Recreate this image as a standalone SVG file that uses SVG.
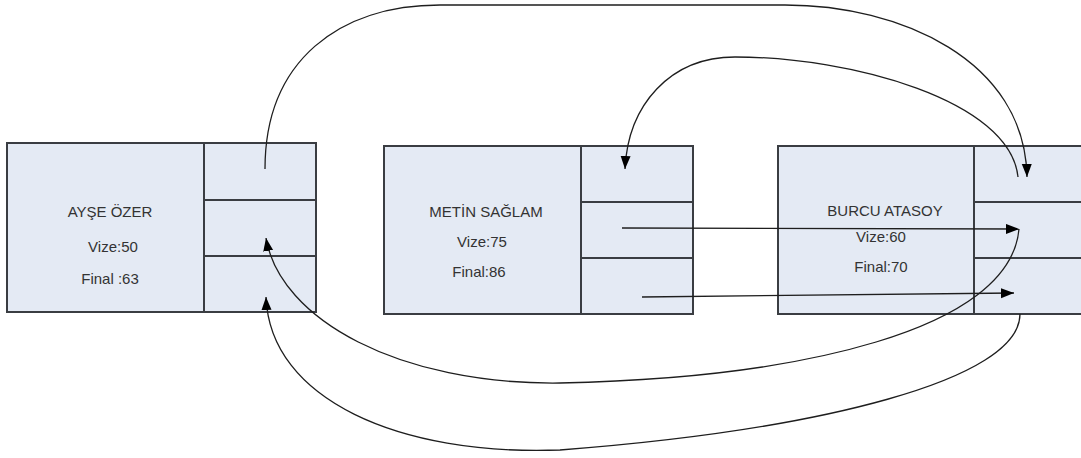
<svg xmlns="http://www.w3.org/2000/svg" width="1081" height="458" viewBox="0 0 1081 458">
<style>
.box{fill:#E4EAF4;stroke:#3A3D42;stroke-width:2}
.div{stroke:#3A3D42;stroke-width:2;fill:none}
.lbl{font-family:"Liberation Sans",Arial,sans-serif;font-size:15px;fill:#333;text-anchor:middle}
.con{fill:none;stroke:#1E1E1E;stroke-width:1.3}
</style>
<defs>
<marker id="ah" markerUnits="userSpaceOnUse" markerWidth="14" markerHeight="11" refX="13" refY="5" orient="auto">
<path d="M0,0 L13,5 L0,10 z" fill="#000"/>
</marker>
</defs>
<rect width="1081" height="458" fill="#fff"/>
<g id="node-ayse">
<rect class="box" x="7" y="143" width="309" height="169"/>
<path class="div" d="M204,143 V312 M204,200 H316 M204,256 H316"/>
<text class="lbl" x="110" y="217">AYŞE ÖZER</text>
<text class="lbl" x="113" y="252">Vize:50</text>
<text class="lbl" x="110" y="284">Final :63</text>
</g>
<g id="node-metin">
<rect class="box" x="384" y="146" width="309" height="168"/>
<path class="div" d="M581,146 V314 M581,202 H693 M581,258 H693"/>
<text class="lbl" x="486" y="217">METİN SAĞLAM</text>
<text class="lbl" x="482" y="247">Vize:75</text>
<text class="lbl" x="479" y="277">Final:86</text>
</g>
<g id="node-burcu">
<rect class="box" x="778" y="146" width="310" height="168"/>
<path class="div" d="M974,146 V314 M974,202 H1088 M974,258 H1088"/>
<text class="lbl" x="885" y="216">BURCU ATASOY</text>
<text class="lbl" x="881" y="242">Vize:60</text>
<text class="lbl" x="881" y="272">Final:70</text>
</g>
<g id="connectors">
<path class="con" marker-end="url(#ah)" d="M265,169 C265,60 340,5 440,5 L785,5 C900,5 1025,60 1027,177"/>
<path class="con" marker-end="url(#ah)" d="M1018,177 C1010,100 850,57 735,57 C670,57 628,105 625,169"/>
<path class="con" marker-end="url(#ah)" d="M622,228 L1019,229"/>
<path class="con" marker-end="url(#ah)" d="M642,297 L1014,293"/>
<path class="con" marker-end="url(#ah)" d="M1019,229 C1010,330 800,378 560,383 C400,385 280,320 266,238"/>
<path class="con" marker-end="url(#ah)" d="M1020,314 C1020,380 820,430 560,450 C400,456 270,400 266,297"/>
</g>
</svg>
